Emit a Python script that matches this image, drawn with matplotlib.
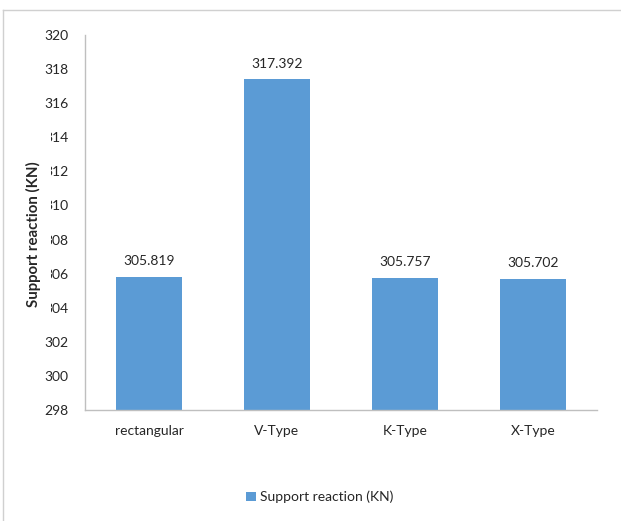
import numpy as np
import matplotlib
matplotlib.use("Agg")
import matplotlib.pyplot as plt
from matplotlib.patches import Rectangle
from matplotlib.lines import Line2D

categories = ["rectangular", "V-Type", "K-Type", "X-Type"]
values = [305.819, 317.392, 305.757, 305.702]
value_labels = ["305.819", "317.392", "305.757", "305.702"]
yticks = np.arange(298, 321, 2)
series_name = "Support reaction (KN)"

BAR_COLOR = "#5B9BD5"
TEXT_COLOR = "#262626"

plt.rcParams["font.family"] = ["Lato", "DejaVu Sans"]

W, H = 621, 521
fig = plt.figure(figsize=(W / 100, H / 100), dpi=100)

# axes box in pixels (left, right, bottom, top)
L, R, B, T = 85, 597, 410, 35
ax = fig.add_axes([L / W, (H - B) / H, (R - L) / W, (B - T) / H])

x = np.arange(len(categories))
bars = ax.bar(x, values, width=0.51, color=BAR_COLOR, label=series_name, zorder=2)

for xi, v, lab in zip(x, values, value_labels):
    ax.annotate(lab, (xi, v), xytext=(0, 7), textcoords="offset points",
                ha="center", va="bottom", fontsize=10, color=TEXT_COLOR)

ax.set_xlim(-0.5, len(categories) - 0.5)
ax.set_ylim(298, 320)
ax.set_yticks(yticks)
ax.set_yticklabels([str(t) for t in yticks])
ax.set_xticks(x)
ax.set_xticklabels(categories)
ax.tick_params(axis="both", length=0, labelsize=10, colors=TEXT_COLOR)
ax.tick_params(axis="y", pad=12)
ax.tick_params(axis="x", pad=11)

for s in ["top", "right"]:
    ax.spines[s].set_visible(False)
for s in ["left", "bottom"]:
    ax.spines[s].set_color("#BFBFBF")
    ax.spines[s].set_linewidth(1)

# axis title box hides part of the tick labels like in the original
fig.patches.append(Rectangle((40 / W, (H - 316) / H), 10.5 / W, 190 / H,
                             transform=fig.transFigure, facecolor="white",
                             edgecolor="none", zorder=5))
fig.text(33 / W, (H - 234) / H, series_name, rotation=90, ha="center",
         va="center", fontsize=10.8, fontweight="bold", color=TEXT_COLOR,
         zorder=6)

# chart area border (top and left visible)
fig.add_artist(Line2D([3 / W, 1], [(H - 10) / H] * 2, color="#D0D0D0", lw=1))
fig.add_artist(Line2D([3 / W] * 2, [0, (H - 10) / H], color="#D0D0D0", lw=1))

fig.legend(handles=[bars], labels=[series_name], loc="center",
           bbox_to_anchor=(320 / W, (H - 497) / H), frameon=False,
           fontsize=10, handlelength=0.7, handleheight=0.7, handletextpad=0.3,
           labelcolor=TEXT_COLOR)

fig.savefig("out.png", dpi=100)
